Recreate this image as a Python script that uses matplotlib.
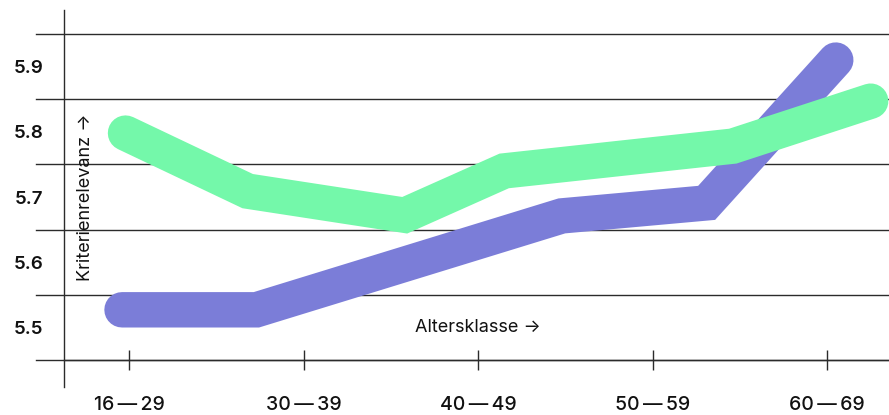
import matplotlib
matplotlib.use("Agg")
import matplotlib.pyplot as plt

# ---- data ----
categories = ["16\u2009—\u200929", "30\u2009—\u200939", "40\u2009—\u200949", "50\u2009—\u200959", "60\u2009—\u200969"]
green_x = [-0.02, 0.68, 1.58, 2.15, 3.46, 4.25]
green_y = [5.798, 5.709, 5.672, 5.740, 5.778, 5.847]
purple_x = [-0.04, 0.73, 2.48, 3.31, 4.05]
purple_y = [5.527, 5.527, 5.671, 5.691, 5.910]
ytick_values = [5.5, 5.6, 5.7, 5.8, 5.9]
ytick_labels = ["5.5", "5.6", "5.7", "5.8", "5.9"]
grid_values = [5.45, 5.55, 5.65, 5.75, 5.85, 5.95]

GREEN = "#74F8AA"
PURPLE = "#7B7DD8"
INK = "#2b2b2b"
FAM = ["Inter", "DejaVu Sans"]

W, H = 889, 415
fig = plt.figure(figsize=(W / 100, H / 100), dpi=100)
ax = fig.add_axes([64 / W, 28 / H, 1 - 64 / W, (387 - 10) / H])

ax.set_xlim(-0.3725, 4.355)
ax.set_ylim(5.4086, 5.9868)

# grid lines (extend a bit left of the y axis)
ext = -(64 - 36) / (W - 64)
for g in grid_values:
    ax.axhline(g, xmin=ext, xmax=1, color=INK, lw=1.0, clip_on=False, zorder=1)

ax.plot(purple_x, purple_y, color=PURPLE, lw=25.5, solid_capstyle="round",
        solid_joinstyle="miter", zorder=3)
ax.plot(green_x, green_y, color=GREEN, lw=25.5, solid_capstyle="round",
        solid_joinstyle="miter", zorder=4)

for s in ["top", "right"]:
    ax.spines[s].set_visible(False)
ax.spines["left"].set_color(INK)
ax.spines["left"].set_linewidth(1.0)
ax.spines["bottom"].set_position(("data", 5.45))
ax.spines["bottom"].set_color(INK)
ax.spines["bottom"].set_linewidth(1.0)

ax.set_xticks(range(len(categories)))
ax.set_xticklabels(categories, fontfamily=FAM, fontsize=14, fontweight="medium", color="#111111")
ax.tick_params(axis="x", direction="inout", length=15, width=1.0, color=INK, pad=18.5)

ax.set_yticks(ytick_values)
ax.set_yticklabels(ytick_labels, fontfamily=FAM, fontsize=13.5, fontweight="semibold", color="#111111")
ax.tick_params(axis="y", length=0, pad=15)

ax.text(2.0, 5.5, "Altersklasse →", ha="center", va="center", fontsize=13,
        family=FAM, color="#111111", zorder=5)
ax.text(-0.25, 5.70, "Kriterienrelevanz →", ha="center", va="center", rotation=90,
        fontsize=13, family=FAM, color="#111111", zorder=5)

ax.patch.set_alpha(0)
fig.savefig("out.png", dpi=100)
